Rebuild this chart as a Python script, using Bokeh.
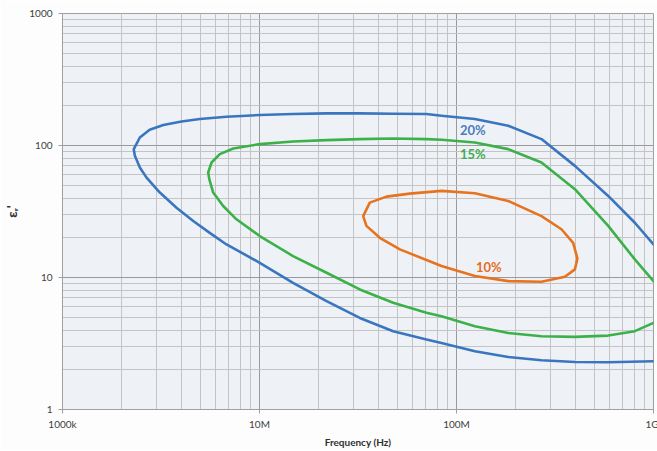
from bokeh.plotting import figure
from bokeh.models import Range1d, FixedTicker, NumeralTickFormatter
from bokeh.embed import file_html
from bokeh.resources import INLINE
from bokeh.core.properties import value

# ---- data ----
x_ticks = [1e6, 1e7, 1e8, 1e9]
x_tick_labels = ["1000k", "10M", "100M", "1G"]
y_ticks = [1, 10, 100, 1000]
y_tick_labels = ["1", "10", "100", "1000"]

# 20 % curve (frequency Hz, eps_r'): upper branch right->left, then lower branch left->right
f20 = [1.0e9, 8.04e8, 5.89e8, 3.99e8, 2.70e8, 1.83e8, 1.24e8, 8.39e7, 7.04e7, 4.77e7,
       3.23e7, 2.19e7, 1.48e7, 1.003e7, 6.80e6, 4.98e6, 4.02e6, 3.25e6, 2.77e6, 2.47e6,
       2.30e6,
       2.33e6, 2.47e6, 2.67e6, 3.12e6, 3.79e6, 4.61e6, 5.59e6, 6.80e6, 1.003e7, 1.48e7,
       2.19e7, 3.23e7, 4.77e7, 7.04e7, 8.39e7, 1.24e8, 1.83e8, 2.70e8, 3.99e8, 5.89e8,
       1.0e9]
e20 = [17.8, 26.0, 41.5, 70.1, 111.8, 141.1, 158.7, 168.1, 173.2, 174.1,
       175.0, 175.0, 173.2, 170.2, 165.2, 158.7, 152.1, 142.8, 131.6, 115.0,
       93.9,
       83.5, 68.1, 57.1, 44.0, 33.8, 26.8, 21.8, 17.8, 12.93, 9.12,
       6.62, 4.94, 3.92, 3.39, 3.19, 2.76, 2.50, 2.36, 2.29, 2.28,
       2.32]

# 15 % curve
f15 = [1.0e9, 8.04e8, 5.89e8, 3.99e8, 2.70e8, 1.83e8, 1.24e8, 8.39e7, 7.04e7, 4.77e7,
       3.23e7, 2.19e7, 1.48e7, 1.003e7, 7.36e6, 6.29e6, 5.71e6, 5.49e6,
       5.56e6, 5.82e6, 6.54e6, 7.64e6, 1.003e7, 1.48e7, 2.19e7, 3.23e7, 4.77e7, 7.04e7,
       8.39e7, 1.24e8, 1.83e8, 2.70e8, 3.99e8, 5.89e8, 8.04e8, 1.0e9]
e15 = [9.39, 13.72, 24.6, 46.7, 74.3, 93.9, 105.4, 110.5, 111.8, 113.0,
       111.8, 109.9, 107.3, 102.5, 94.9, 86.0, 74.3, 62.4,
       55.6, 44.0, 34.8, 27.6, 20.6, 14.54, 10.86, 8.12, 6.43, 5.40,
       5.09, 4.28, 3.80, 3.59, 3.55, 3.63, 3.92, 4.53]

# 10 % curve (closed loop)
f10 = [3.36e7, 3.63e7, 4.41e7, 5.79e7, 8.39e7, 1.24e8, 1.83e8, 2.70e8, 3.41e8, 3.91e8,
       4.11e8, 3.99e8, 3.55e8, 2.70e8, 1.83e8, 1.24e8, 8.39e7, 5.16e7, 4.08e7, 3.49e7,
       3.36e7]
e10 = [29.2, 36.9, 41.0, 43.2, 45.3, 43.5, 38.0, 29.2, 23.2, 18.3,
       13.92, 11.52, 10.12, 9.28, 9.39, 10.25, 12.21, 16.34, 20.0, 24.6,
       29.2]

series_labels = ["20%", "15%", "10%"]
label_f = [1.21e8, 1.21e8, 1.46e8]
label_e = [131.6, 86.5, 12.0]

colors = ["#3a76c0", "#3cb14a", "#e8731f"]
label_colors = ["#4a7dc0", "#42ad50", "#e46e22"]

# minor grid positions (2..9 per decade)
x_minor = [k * 10.0 ** d for d in range(6, 9) for k in range(2, 10)]
y_minor = [k * 10.0 ** d for d in range(0, 3) for k in range(2, 10)]

FONT = "Lato"

p = figure(width=657, height=449, x_axis_type="log", y_axis_type="log",
           x_range=Range1d(1e6, 1e9), y_range=Range1d(1, 1000),
           output_backend="svg", toolbar_location=None,
           min_border_left=61, min_border_right=5, min_border_top=13, min_border_bottom=40)
p.frame_width = 591
p.frame_height = 396

p.background_fill_color = "#eef2f7"
p.border_fill_color = "#fdfdfd"
p.outline_line_color = "#a0a0a0"

p.xaxis.ticker = FixedTicker(ticks=x_ticks, minor_ticks=x_minor)
p.yaxis.ticker = FixedTicker(ticks=y_ticks, minor_ticks=y_minor)
p.xaxis.major_label_overrides = dict(zip(x_ticks, x_tick_labels))
p.yaxis.major_label_overrides = dict(zip([float(v) for v in y_ticks], y_tick_labels))
p.yaxis.formatter = NumeralTickFormatter(format="0")

for ax in (p.xaxis, p.yaxis):
    ax.axis_line_color = "#a0a0a0"
    ax.major_tick_line_color = "#a0a0a0"
    ax.major_tick_out = 4
    ax.major_tick_in = 0
    ax.minor_tick_line_color = None
    ax.major_label_text_font = FONT
    ax.major_label_text_font_size = "10px"
    ax.major_label_text_color = "#404040"
    ax.axis_label_text_font = FONT
    ax.axis_label_text_font_style = "bold"
    ax.axis_label_text_color = "#303030"

p.xaxis.major_label_standoff = 4
p.xaxis.axis_label = "Frequency (Hz)"
p.xaxis.axis_label_text_font_size = "10px"
p.xaxis.axis_label_standoff = 3

p.yaxis.major_label_standoff = 6
p.yaxis.axis_label = "εᵣ'"
p.yaxis.axis_label_text_font_size = "14px"
p.yaxis.axis_label_standoff = 6

p.xgrid.grid_line_color = "#9a9a9a"
p.ygrid.grid_line_color = "#9a9a9a"
p.xgrid.minor_grid_line_color = "#c4c4c4"
p.ygrid.minor_grid_line_color = "#c4c4c4"

for fx, ey, c in ((f20, e20, colors[0]), (f15, e15, colors[1]), (f10, e10, colors[2])):
    p.line(fx, ey, line_color=c, line_width=2.6, line_join="round", line_cap="round")

for i in range(3):
    p.text(x=[label_f[i]], y=[label_e[i]], text=[series_labels[i]],
           text_color=label_colors[i], text_font=value(FONT), text_font_style="bold",
           text_font_size="13px", text_align="center", text_baseline="middle")

open("out.html", "w").write(file_html(p, INLINE))
